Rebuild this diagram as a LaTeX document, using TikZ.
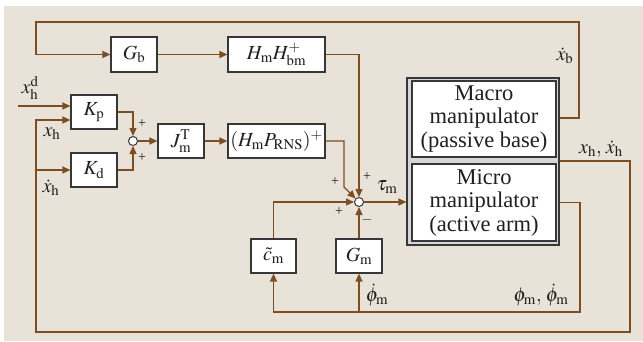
\documentclass[tikz,border=0pt]{standalone}
\usepackage{mathptmx}
\usepackage{fontspec}
\setmainfont{Liberation Serif}
\usetikzlibrary{arrows.meta}
\definecolor{bgc}{RGB}{232,226,217}
\definecolor{lnc}{RGB}{125,78,36}
\definecolor{bdc}{RGB}{55,55,55}
\definecolor{frc}{RGB}{214,214,214}
\definecolor{txc}{RGB}{35,31,32}
\begin{document}
\begin{tikzpicture}[x=1pt,y=-1pt,
 blk/.style={draw=bdc, line width=1.2pt, fill=white, inner sep=0pt, text=txc, font=\fontsize{20}{21}\selectfont},
 bigblk/.style={draw=bdc, line width=1.2pt, fill=white, inner sep=0pt, text=txc, align=center, font=\fontsize{22.5}{23.5}\selectfont, minimum width=144pt},
 sig/.style={draw=lnc, line width=1.3pt},
 arr/.style={sig, -{Triangle[length=8pt,width=7pt]}},
 sumc/.style={circle, draw=bdc, fill=white, line width=1pt, minimum size=9pt, inner sep=0pt},
 lbl/.style={font=\fontsize{20}{21}\selectfont, inner sep=0pt, text=txc},
 pm/.style={font=\fontsize{14}{14}\selectfont, inner sep=0pt, text=txc},
]
\useasboundingbox (0,0) rectangle (643,341);
\fill[bgc] (4,6) rectangle (643,341);

\node[blk, minimum width=46pt, minimum height=35pt] (Gb) at (134,54.5) {$G_{\mathrm{b}}$};
\node[blk, minimum width=97pt, minimum height=35pt] (HH) at (276.5,54.5) {$H_{\mathrm{m}}H^{+}_{\mathrm{bm}}$};
\node[blk, minimum width=46pt, minimum height=34pt] (Kp) at (94,112) {$K_{\mathrm{p}}$};
\node[blk, minimum width=46pt, minimum height=34pt] (Kd) at (94,170) {$K_{\mathrm{d}}$};
\node[sumc] (s1) at (133,141) {};
\node[blk, minimum width=46pt, minimum height=34pt] (J) at (181,141) {$J^{\mathrm{T}}_{\mathrm{m}}$};
\node[blk, minimum width=97pt, minimum height=34pt] (HP) at (276.5,141) {$(H_{\mathrm{m}}P_{\mathrm{RNS}})^{+}$};
\node[sumc] (s2) at (359,202) {};
\node[draw=bdc, fill=frc, line width=1.2pt, minimum width=152pt, minimum height=167pt, inner sep=0pt] (out) at (483,161.5) {};
\node[bigblk, minimum height=76pt] (mac) at (484,119) {Macro\\manipulator\\(passive base)};
\node[bigblk, minimum height=77pt] (mic) at (484,202.5) {Micro\\manipulator\\(active arm)};
\node[blk, minimum width=45pt, minimum height=34pt] (cm) at (273.5,256) {$\tilde{c}_{\mathrm{m}}$};
\node[blk, minimum width=46pt, minimum height=34pt] (Gm) at (359,256) {$G_{\mathrm{m}}$};
\coordinate (xin) at (18,106);

% connectors
\draw[arr] (out.east |- 0,118) -- (579,118) -- (579,22) -- (36,22) -- (36,54.5) -- (Gb.west);
\draw[arr] (Gb) -- (HH);
\draw[arr] (HH.east) -| (s2.north);
\draw[arr] (xin) -- (Kp.west |- xin);
\draw[arr] (out.east |- 0,161) -- (630,161) -- (630,332) -- (36,332) -- (36,120) -- (Kp.west |- 0,120);
\draw[arr] (36,170) -- (Kd.west);
\draw[arr] (Kp.east) -| (s1.north);
\draw[arr] (Kd.east) -| (s1.south);
\draw[arr] (s1) -- (J);
\draw[arr] (J) -- (HP);
\draw[arr] (HP.east) -| (344,187) -- (s2.north west);
\draw[arr] (s2) -- (out.west |- s2);
\draw[arr] (out.east |- mic.east) -- (580,202.5) -- (580,312) -| (cm.south);
\draw[arr] (Gm.south |- 0,312) -- (Gm.south);
\draw[arr] (cm.north) |- (s2.west);
\draw[arr] (Gm.north) -- (s2.south);

% labels
\node[lbl] (lxhd) at (30,88) {$x_{\mathrm{h}}^{\mathrm{d}}$};
\node[lbl] (lxh) at (52,134) {$x_{\mathrm{h}}$};
\node[lbl] (lxhdot) at (51,188) {$\dot{x}_{\mathrm{h}}$};
\node[pm] (p1) at (142,124) {+};
\node[pm] (p2) at (142,158) {+};
\node[pm] (p3) at (335,182) {+};
\node[pm] (p4) at (367,177) {+};
\node[pm] (p5) at (339,212) {+};
\node[pm] (p6) at (367,220) {$-$};
\node[lbl] (ltau) at (387,187) {$\tau_{\mathrm{m}}$};
\node[lbl] (lxb) at (565,56) {$\dot{x}_{\mathrm{b}}$};
\node[lbl] (lxhh) at (601,149) {$x_{\mathrm{h}},\,\dot{x}_{\mathrm{h}}$};
\node[lbl] (lphi) at (377,295) {$\dot{\phi}_{\mathrm{m}}$};
\node[lbl] (lphis) at (541,295) {$\phi_{\mathrm{m}},\,\dot{\phi}_{\mathrm{m}}$};
\end{tikzpicture}
\end{document}
